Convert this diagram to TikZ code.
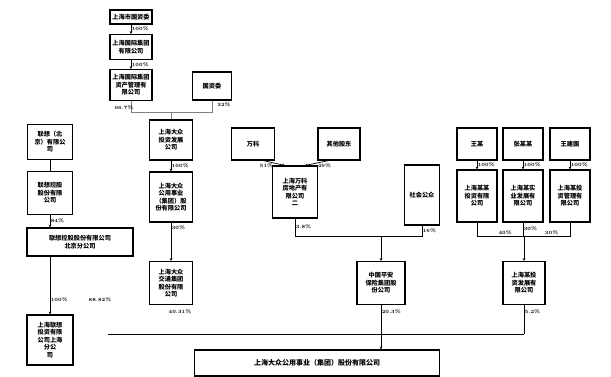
\documentclass[tikz,border=0pt]{standalone}
\usepackage{fontspec}
\newfontfamily\cjk{Noto Sans CJK SC}
\usetikzlibrary{arrows.meta}
\begin{document}
\begin{tikzpicture}[x=1pt,y=-1pt,
  box/.style={draw,line width=1.1pt,align=center,inner sep=0.5pt,font=\cjk\bfseries\fontsize{6.2}{7.4}\selectfont},
  lbl/.style={font=\bfseries\fontsize{4.8}{5}\selectfont,inner sep=0.5pt},
  conn/.style={line width=0.7pt},
  arr/.style={line width=0.7pt,-{Stealth[length=2.8pt,width=2.8pt]}},
  faint/.style={line width=0.35pt,gray}]
\useasboundingbox (0,0) rectangle (611,377);
\fill[white] (0,0) rectangle (611,377);
% top chain
\node[box,minimum width=42,minimum height=14] (t1) at (131,17) {上海市国资委};
\node[box,minimum width=42,minimum height=25] (t2) at (131,47) {上海国际集团\\有限公司};
\node[box,minimum width=42,minimum height=31] (t3) at (131,85) {上海国际集团\\资产管理有\\限公司};
\node[box,minimum width=39,minimum height=28] (t4) at (212,86) {国资委};
% left column
\node[box,minimum width=45,minimum height=35] (l1) at (50,142) {联想（北\\京）有限公\\司};
\node[box,minimum width=45,minimum height=43] (l2) at (50,193) {联想控股\\股份有限\\公司};
\node[box,minimum width=106,minimum height=28] (l3) at (80,242) {联想控股股份有限公司\\北京分公司};
\node[box,minimum width=46,minimum height=50] (l4) at (50,340) {上海联想\\投资有限\\公司上海\\分公\\司};
% second column
\node[box,minimum width=43,minimum height=40] (m1) at (171,140) {上海大众\\投资发展\\公司};
\node[box,minimum width=43,minimum height=50] (m2) at (171,197) {上海大众\\公用事业\\（集团）股\\份有限公司};
\node[box,minimum width=43,minimum height=43] (m3) at (171,283) {上海大众\\交通集团\\股份有限\\公司};
% middle
\node[box,minimum width=43,minimum height=32] (b1) at (253,144) {万科};
\node[box,minimum width=42,minimum height=32] (b2) at (339,144) {其他股东};
\node[box,minimum width=45,minimum height=52] (b3) at (295,192) {上海万科\\房地产有\\限公司\\二};
\node[box,minimum width=48,minimum height=43] (b4) at (381,283) {中国平安\\保险集团股\\份公司};
% right
\node[box,minimum width=35,minimum height=60] (r0) at (422,195) {社会公众};
\node[box,minimum width=40,minimum height=32] (r1) at (477,144) {王某};
\node[box,minimum width=40,minimum height=32] (r2) at (523,144) {张某某};
\node[box,minimum width=40,minimum height=32] (r3) at (570,144) {王建国};
\node[box,minimum width=40,minimum height=52] (r1b) at (477,196) {上海某某\\投资有限\\公司};
\node[box,minimum width=40,minimum height=52] (r2b) at (523,196) {上海某实\\业发展有\\限公司};
\node[box,minimum width=40,minimum height=52] (r3b) at (570,196) {上海某投\\资管理有\\限公司};
\node[box,minimum width=42,minimum height=43] (r4) at (524,283) {上海某投\\资发展有\\限公司};
% final
\node[box,minimum width=245,minimum height=26,font=\cjk\bfseries\fontsize{7}{8}\selectfont] (fin) at (317,363) {上海大众公用事业（集团）股份有限公司};
% connectors: top chain
\draw[arr] (t1) -- node[lbl,right]{100\%} (t2);
\draw[arr] (t2) -- node[lbl,right]{100\%} (t3);
\draw[faint] (t3.south) -- (131,112) -| (m1.north);
\draw[faint] (t4.south) |- (171,112);
\node[lbl] at (124,108) {66.7\%};
\node[lbl] at (224,105) {32\%};
% left
\draw[conn] (l1) -- (l2);
\draw[arr] (l2) -- node[lbl,right,pos=0.5]{84\%} (l3.north -| l2);
\draw[arr] (l3.south -| l4) -- node[lbl,right,pos=0.75]{100\%} (l4);
\node[lbl] at (100,300) {88.82\%};
% second column
\draw[arr] (m1) -- node[lbl,right]{100\%} (m2);
\draw[arr] (m2) -- node[lbl,right,pos=0.15]{30\%} (m3);
\node[lbl] at (180,312) {40.31\%};
% middle
\draw[arr] ([xshift=10]b1.south) -- node[lbl,below left]{51\%} ([xshift=-10]b3.north);
\draw[arr] ([xshift=-10]b2.south) -- node[lbl,below right]{49\%} ([xshift=10]b3.north);
\coordinate (jb) at (381,236);
\draw[conn] (b3.south) -- node[lbl,right]{3.8\%} (b3.south |- jb) -- (jb);
\draw[conn] (r0.south) -- node[lbl,right]{16\%} (r0.south |- jb) -- (jb);
\draw[arr] (jb) -- (b4.north);
% right
\draw[arr] (r1) -- node[lbl,right]{100\%} (r1b);
\draw[arr] (r2) -- node[lbl,right]{100\%} (r2b);
\draw[arr] (r3) -- node[lbl,right]{100\%} (r3b);
\coordinate (jr) at (524,236);
\draw[conn] (r1b.south) -- (r1b.south |- jr) -- node[lbl,above,pos=0.6]{40\%} (jr);
\draw[conn] (r2b.south) -- node[lbl,right]{30\%} (r2b.south |- jr);
\draw[conn] (r3b.south) -- (r3b.south |- jr) -- node[lbl,above,pos=0.4]{30\%} (jr);
\draw[arr] (jr) -- (r4.north);
% bus and final
\coordinate (busL) at (108,334);
\coordinate (busR) at (524,334);
\draw[line width=1pt] (busL) -- (busR);
\draw[conn] (r4.south) -- node[lbl,right,pos=0.25]{5.2\%} (busR);
\draw[arr] (b4.south) -- node[lbl,right,pos=0.15]{20.3\%} (b4.south |- fin.north);
\end{tikzpicture}
\end{document}
